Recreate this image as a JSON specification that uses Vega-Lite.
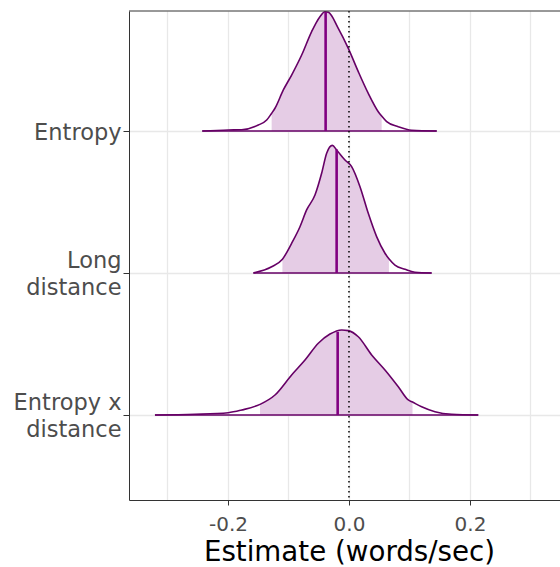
{
  "$schema": "https://vega.github.io/schema/vega-lite/v6.json",
  "width": 431,
  "height": 489,
  "autosize": {"type": "none"},
  "padding": {"left": 129, "top": 11, "right": 0, "bottom": 67},
  "background": "white",
  "config": {"view": {"stroke": null}, "font": "DejaVu Sans"},
  "datasets": {
    "dens": [
      {"param": "Entropy", "x": -0.2425, "h": 0},
      {"param": "Entropy", "x": -0.1995, "h": 0.007},
      {"param": "Entropy", "x": -0.1774, "h": 0.009},
      {"param": "Entropy", "x": -0.1499, "h": 0.042},
      {"param": "Entropy", "x": -0.136, "h": 0.077},
      {"param": "Entropy", "x": -0.1278, "h": 0.125},
      {"param": "Entropy", "x": -0.1223, "h": 0.16},
      {"param": "Entropy", "x": -0.1085, "h": 0.289},
      {"param": "Entropy", "x": -0.0948, "h": 0.394},
      {"param": "Entropy", "x": -0.0782, "h": 0.535},
      {"param": "Entropy", "x": -0.0617, "h": 0.7},
      {"param": "Entropy", "x": -0.048, "h": 0.805},
      {"param": "Entropy", "x": -0.0397, "h": 0.84},
      {"param": "Entropy", "x": -0.034, "h": 0.836},
      {"param": "Entropy", "x": -0.0177, "h": 0.723},
      {"param": "Entropy", "x": -0.0011, "h": 0.582},
      {"param": "Entropy", "x": 0.0154, "h": 0.418},
      {"param": "Entropy", "x": 0.0319, "h": 0.265},
      {"param": "Entropy", "x": 0.0484, "h": 0.136},
      {"param": "Entropy", "x": 0.054, "h": 0.105},
      {"param": "Entropy", "x": 0.0623, "h": 0.066},
      {"param": "Entropy", "x": 0.0815, "h": 0.03},
      {"param": "Entropy", "x": 0.1036, "h": 0.005},
      {"param": "Entropy", "x": 0.145, "h": 0},

      {"param": "Long distance", "x": -0.158, "h": 0},
      {"param": "Long distance", "x": -0.1278, "h": 0.044},
      {"param": "Long distance", "x": -0.11, "h": 0.097},
      {"param": "Long distance", "x": -0.0948, "h": 0.209},
      {"param": "Long distance", "x": -0.081, "h": 0.326},
      {"param": "Long distance", "x": -0.07, "h": 0.444},
      {"param": "Long distance", "x": -0.0562, "h": 0.549},
      {"param": "Long distance", "x": -0.0452, "h": 0.702},
      {"param": "Long distance", "x": -0.0369, "h": 0.843},
      {"param": "Long distance", "x": -0.0275, "h": 0.899},
      {"param": "Long distance", "x": -0.0204, "h": 0.866},
      {"param": "Long distance", "x": -0.0066, "h": 0.796},
      {"param": "Long distance", "x": 0.0044, "h": 0.749},
      {"param": "Long distance", "x": 0.0182, "h": 0.608},
      {"param": "Long distance", "x": 0.0319, "h": 0.42},
      {"param": "Long distance", "x": 0.0457, "h": 0.256},
      {"param": "Long distance", "x": 0.0595, "h": 0.139},
      {"param": "Long distance", "x": 0.066, "h": 0.1},
      {"param": "Long distance", "x": 0.076, "h": 0.056},
      {"param": "Long distance", "x": 0.0926, "h": 0.026},
      {"param": "Long distance", "x": 0.109, "h": 0.005},
      {"param": "Long distance", "x": 0.1366, "h": 0},

      {"param": "Entropy x distance", "x": -0.3207, "h": 0},
      {"param": "Entropy x distance", "x": -0.2545, "h": 0.005},
      {"param": "Entropy x distance", "x": -0.1995, "h": 0.016},
      {"param": "Entropy x distance", "x": -0.1774, "h": 0.035},
      {"param": "Entropy x distance", "x": -0.147, "h": 0.075},
      {"param": "Entropy x distance", "x": -0.1223, "h": 0.141},
      {"param": "Entropy x distance", "x": -0.0948, "h": 0.282},
      {"param": "Entropy x distance", "x": -0.0727, "h": 0.387},
      {"param": "Entropy x distance", "x": -0.0507, "h": 0.505},
      {"param": "Entropy x distance", "x": -0.0314, "h": 0.57},
      {"param": "Entropy x distance", "x": -0.0121, "h": 0.599},
      {"param": "Entropy x distance", "x": -0.0011, "h": 0.594},
      {"param": "Entropy x distance", "x": 0.0154, "h": 0.551},
      {"param": "Entropy x distance", "x": 0.0375, "h": 0.423},
      {"param": "Entropy x distance", "x": 0.0595, "h": 0.317},
      {"param": "Entropy x distance", "x": 0.0815, "h": 0.199},
      {"param": "Entropy x distance", "x": 0.098, "h": 0.106},
      {"param": "Entropy x distance", "x": 0.105, "h": 0.091},
      {"param": "Entropy x distance", "x": 0.1201, "h": 0.058},
      {"param": "Entropy x distance", "x": 0.1421, "h": 0.023},
      {"param": "Entropy x distance", "x": 0.1698, "h": 0.005},
      {"param": "Entropy x distance", "x": 0.2137, "h": 0}
    ],
    "summ": [
      {"param": "Entropy", "lo": -0.1278, "hi": 0.054, "med": -0.0386, "medh": 0.838, "min": -0.2425, "max": 0.145},
      {"param": "Long distance", "lo": -0.11, "hi": 0.066, "med": -0.0204, "medh": 0.87, "min": -0.158, "max": 0.1366},
      {"param": "Entropy x distance", "lo": -0.147, "hi": 0.105, "med": -0.0187, "medh": 0.585, "min": -0.3207, "max": 0.2137}
    ]
  },
  "layer": [
    {
      "data": {"name": "dens"},
      "transform": [
        {"lookup": "param", "from": {"data": {"name": "summ"}, "key": "param", "fields": ["lo", "hi"]}},
        {"filter": "datum.x >= datum.lo && datum.x <= datum.hi"},
        {"calculate": "datum.param == 'Entropy' ? 3 : datum.param == 'Long distance' ? 2 : 1", "as": "base"},
        {"calculate": "datum.base + datum.h", "as": "top"}
      ],
      "mark": {"type": "area", "color": "#E5CCE5", "interpolate": "monotone"},
      "encoding": {
        "x": {
          "field": "x",
          "type": "quantitative",
          "scale": {"domain": [-0.3636, 0.3488], "nice": false, "zero": false},
          "axis": {
            "values": [-0.3, -0.2, -0.1, 0, 0.1, 0.2, 0.3],
            "labelExpr": "datum.value == -0.2 ? '-0.2' : datum.value == 0 ? '0.0' : datum.value == 0.2 ? '0.2' : ''",
            "tickOpacity": {"condition": {"test": "abs(datum.value) < 0.05 || abs(abs(datum.value) - 0.2) < 0.05", "value": 1}, "value": 0},
            "grid": true,
            "gridColor": "#E8E8E8",
            "gridWidth": 1.3,
            "domainColor": "#333333",
            "tickColor": "#333333",
            "tickSize": 5,
            "labelFontSize": 20,
            "labelColor": "#4D4D4D",
            "labelPadding": 9,
            "labelFlush": false,
            "labelOverlap": false,
            "title": "Estimate (words/sec)",
            "titleFontSize": 27.7,
            "titleColor": "#000000",
            "titleFontWeight": "normal",
            "titlePadding": 4,
            "titleX": 220
          }
        },
        "y": {
          "field": "top",
          "type": "quantitative",
          "scale": {"domain": [0.4014, 3.845], "nice": false, "zero": false},
          "axis": {
            "values": [1, 2, 3],
            "labelExpr": "datum.value == 3 ? 'Entropy' : datum.value == 2 ? ['Long', 'distance'] : ['Entropy x', 'distance']",
            "grid": true,
            "gridColor": "#E8E8E8",
            "gridWidth": 1.3,
            "domainColor": "#333333",
            "tickColor": "#333333",
            "tickSize": 6,
            "labelFontSize": 22.5,
            "labelColor": "#4D4D4D",
            "labelPadding": 2,
            "labelLineHeight": 27,
            "labelOffset": {"condition": {"test": "datum.value == 3", "value": 2}, "value": -12},
            "labelOverlap": false,
            "labelBound": false,
            "labelFlush": false,
            "title": null
          }
        },
        "y2": {"field": "base"},
        "detail": {"field": "param"}
      }
    },
    {
      "data": {"name": "dens"},
      "transform": [
        {"calculate": "datum.param == 'Entropy' ? 3 : datum.param == 'Long distance' ? 2 : 1", "as": "base"},
        {"calculate": "datum.base + datum.h", "as": "top"}
      ],
      "mark": {"type": "line", "color": "#660066", "strokeWidth": 1.6, "interpolate": "monotone"},
      "encoding": {
        "x": {"field": "x", "type": "quantitative"},
        "y": {"field": "top", "type": "quantitative"},
        "detail": {"field": "param"}
      }
    },
    {
      "data": {"name": "summ"},
      "transform": [
        {"calculate": "datum.param == 'Entropy' ? 3 : datum.param == 'Long distance' ? 2 : 1", "as": "base"}
      ],
      "mark": {"type": "rule", "color": "#660066", "strokeWidth": 1.6},
      "encoding": {
        "x": {"field": "min", "type": "quantitative"},
        "x2": {"field": "max"},
        "y": {"field": "base", "type": "quantitative"}
      }
    },
    {
      "data": {"name": "summ"},
      "transform": [
        {"calculate": "datum.param == 'Entropy' ? 3 : datum.param == 'Long distance' ? 2 : 1", "as": "base"},
        {"calculate": "datum.base + datum.medh", "as": "medtop"}
      ],
      "mark": {"type": "rule", "color": "#800080", "strokeWidth": 2.6},
      "encoding": {
        "x": {"field": "med", "type": "quantitative"},
        "y": {"field": "base", "type": "quantitative"},
        "y2": {"field": "medtop"}
      }
    },
    {
      "data": {"values": [{"ref": 0}]},
      "mark": {"type": "rule", "color": "#000000", "strokeWidth": 1.5, "strokeDash": [1.5, 3.5]},
      "encoding": {
        "x": {"field": "ref", "type": "quantitative"}
      }
    },
    {
      "data": {"values": [{}]},
      "mark": {"type": "rule", "color": "#333333", "strokeWidth": 1},
      "encoding": {
        "y": {"datum": 3.845}
      }
    }
  ]
}
